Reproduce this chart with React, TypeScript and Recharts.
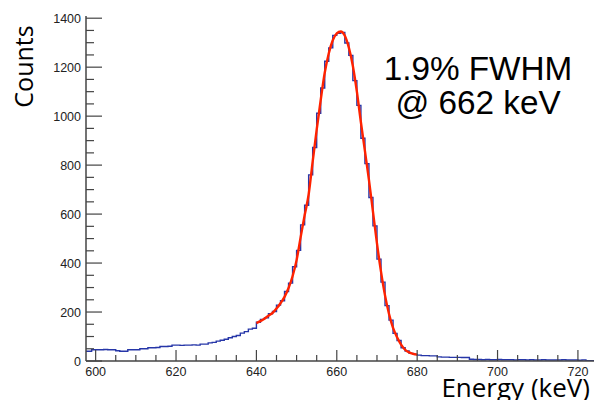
import { LineChart, Line, XAxis, YAxis } from "recharts";

// histogram: 1 keV bins starting at HIST_START
const HIST_START = 597;
const HIST_COUNTS = [
  40, 40, 46, 46, 46, 47, 46, 46, 42, 40, 40, 46, 46, 46, 50, 50, 54, 54, 55, 59,
  59, 60, 65, 65, 64, 65, 65, 66, 65, 69, 69, 74, 76, 81, 85, 89, 95, 100, 104, 114,
  120, 130, 134, 158, 170, 176, 193, 202, 228, 246, 284, 318, 385, 452, 556, 636, 760, 872, 1012, 1115,
  1224, 1279, 1330, 1338, 1342, 1299, 1248, 1145, 1044, 910, 806, 668, 552, 416, 322, 226, 167, 113, 84, 54,
  41, 31, 27, 24, 22, 22, 21, 21, 17, 16, 16, 15, 15, 15, 14, 14, 7, 6, 6, 5,
  6, 5, 5, 6, 5, 5, 5, 4, 5, 5, 4, 5, 4, 4, 5, 4, 4, 4, 4, 5,
  4, 4, 4, 3, 4, 1, 1,
];

// fit curve (red), 1 keV spacing
const FIT_START = 640;
const FIT_COUNTS = [
  155, 163, 173, 185, 196, 214, 236, 262, 298, 346, 412, 505, 595, 680, 814, 945, 1066, 1177, 1256, 1310,
  1338, 1346, 1328, 1280, 1205, 1100, 975, 858, 740, 610, 480, 365, 268, 192, 135, 97, 67, 46, 35, 29,
  26,
];

const Y_TICKS = Array.from({ length: 29 }, (_, i) => i * 50);
const X_TICKS = Array.from({ length: 25 }, (_, i) => 600 + i * 5);

const histData = HIST_COUNTS.map((c, i) => ({ e: HIST_START + i, c }));
histData.push({ e: HIST_START + HIST_COUNTS.length, c: HIST_COUNTS[HIST_COUNTS.length - 1] });
const fitData = FIT_COUNTS.map((c, i) => ({ e: FIT_START + i, c }));

const AXIS_COLOR = "#444";
const TICK_FONT = "Arial, 'Liberation Sans', sans-serif";
const LABEL_FONT = "'Open Sans', Lato, sans-serif";

function YTick(props: any) {
  const { x, y, payload } = props;
  const major = payload.value % 200 === 0;
  return (
    <g>
      <line x1={x} x2={x + (major ? 16 : 8)} y1={y} y2={y} stroke={AXIS_COLOR} strokeWidth={1.2} />
      {major && (
        <text x={x - 5} y={y} dy={4.5} textAnchor="end" fontSize={12.5} fontFamily={TICK_FONT} fill="#222">
          {payload.value}
        </text>
      )}
    </g>
  );
}

function XTick(props: any) {
  const { x, y, payload } = props;
  const major = payload.value % 20 === 0;
  return (
    <g>
      <line x1={x} x2={x} y1={y} y2={y - (major ? 11 : 6)} stroke={AXIS_COLOR} strokeWidth={1.2} />
      {major && (
        <text x={x} y={y + 15} textAnchor="middle" fontSize={12.5} fontFamily={TICK_FONT} fill="#222">
          {payload.value}
        </text>
      )}
    </g>
  );
}

export default function App() {
  return (
    <div style={{ position: "absolute", left: 0, top: 0, width: 594, height: 400, background: "#fff", overflow: "hidden" }}>
      <LineChart width={594} height={400} margin={{ top: 16, right: 0, bottom: 0, left: 0 }}>
        <XAxis
          xAxisId="main"
          dataKey="e"
          type="number"
          domain={[597.6, 724]}
          allowDataOverflow
          ticks={X_TICKS}
          interval={0}
          tick={<XTick />}
          tickLine={false}
          tickSize={0}
          tickMargin={0}
          height={39}
          axisLine={{ stroke: AXIS_COLOR, strokeWidth: 1.5 }}
        />
        <XAxis
          xAxisId="top"
          orientation="top"
          type="number"
          domain={[597.6, 724]}
          tick={false}
          tickLine={false}
          height={0}
          axisLine={{ stroke: AXIS_COLOR, strokeWidth: 1.5 }}
        />
        <YAxis
          type="number"
          domain={[0, 1409]}
          allowDataOverflow
          ticks={Y_TICKS}
          interval={0}
          tick={<YTick />}
          tickLine={false}
          tickSize={0}
          tickMargin={0}
          width={86}
          axisLine={{ stroke: AXIS_COLOR, strokeWidth: 1.5 }}
        />
        <Line
          xAxisId="main"
          data={histData}
          dataKey="c"
          type="stepAfter"
          stroke="#2636a8"
          strokeWidth={1.4}
          dot={false}
          isAnimationActive={false}
        />
        <Line
          xAxisId="main"
          data={fitData}
          dataKey="c"
          type="monotone"
          stroke="#ff2200"
          strokeWidth={2.4}
          dot={false}
          isAnimationActive={false}
        />
      </LineChart>
      <svg
        width={594}
        height={400}
        style={{ position: "absolute", left: 0, top: 0, pointerEvents: "none" }}
      >
        <text x={478} y={79.5} textAnchor="middle" fontSize={33.3} fontFamily={TICK_FONT} fill="#000">
          1.9% FWHM
        </text>
        <text x={478} y={113.5} textAnchor="middle" fontSize={33.3} fontFamily={TICK_FONT} fill="#000">
          @ 662 keV
        </text>
        <text
          x={0}
          y={0}
          transform="translate(33 66.5) rotate(-90)"
          textAnchor="middle"
          fontSize={25}
          fontFamily={LABEL_FONT}
          fill="#000"
        >
          Counts
        </text>
        <text x={590} y={397} textAnchor="end" fontSize={26} fontFamily={LABEL_FONT} fill="#000">
          Energy (keV)
        </text>
      </svg>
    </div>
  );
}
